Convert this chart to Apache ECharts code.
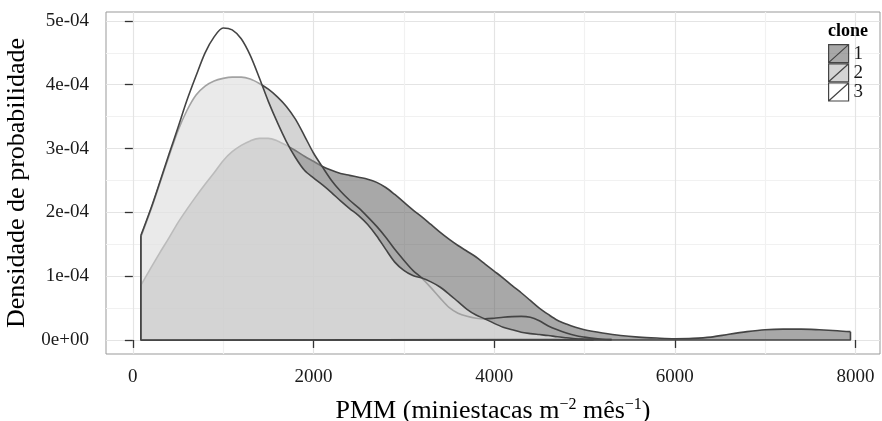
<!DOCTYPE html>
<html>
<head>
<meta charset="utf-8">
<script src="https://cdn.jsdelivr.net/npm/echarts@6/dist/echarts.min.js"></script>
<style>
html,body{margin:0;padding:0;background:#fff;}
#chart{width:882px;height:421px;}
</style>
</head>
<body>
<div id="chart"></div>
<script>
// ---- data (densities in units of 1e-4) ----
const clones = ['1', '2', '3'];
const densityUnit = 1e-4;

const clone1X = [90,200,300,400,500,600,700,800,900,1000,1100,1200,1300,1400,1500,1600,1700,1800,1900,2000,
  2100,2200,2300,2400,2500,2600,2700,2800,2900,3000,3100,3200,3300,3400,3500,3600,3700,3800,3900,4000,
  4100,4200,4300,4400,4500,4600,4700,4800,4900,5000,5200,5400,5600,5800,6000,6200,6400,6600,6800,7000,
  7200,7400,7600,7800,7945];
const clone1Y = [0.86,1.13,1.37,1.60,1.84,2.05,2.25,2.44,2.62,2.81,2.95,3.05,3.12,3.16,3.16,3.12,3.05,2.97,2.88,2.80,
  2.72,2.66,2.61,2.58,2.55,2.52,2.47,2.39,2.28,2.16,2.04,1.93,1.81,1.69,1.58,1.48,1.39,1.30,1.19,1.08,
  0.97,0.85,0.74,0.62,0.50,0.40,0.31,0.25,0.20,0.16,0.11,0.07,0.045,0.03,0.02,0.025,0.045,0.09,0.13,0.16,
  0.17,0.17,0.16,0.145,0.13];

const clone2X = [90,200,300,400,500,600,700,800,900,1000,1100,1200,1300,1400,1500,1600,1700,1800,1900,2000,
  2100,2200,2300,2400,2500,2600,2700,2800,2900,3000,3100,3200,3300,3400,3500,3600,3700,3800,3900,4000,
  4100,4200,4300,4400,4500,4600,4700,4800,4900,5000,5100,5200,5300];
const clone2Y = [1.62,2.04,2.46,2.88,3.28,3.60,3.84,3.98,4.06,4.10,4.12,4.12,4.09,4.02,3.93,3.81,3.66,3.46,3.20,2.93,
  2.71,2.50,2.33,2.19,2.07,1.93,1.78,1.61,1.42,1.25,1.09,0.97,0.82,0.66,0.51,0.42,0.37,0.34,0.33,0.34,
  0.355,0.365,0.37,0.355,0.30,0.22,0.16,0.11,0.07,0.045,0.025,0.012,0.005];

const clone3X = [90,200,300,400,500,600,700,800,900,1000,1100,1200,1300,1400,1500,1600,1700,1800,1900,2000,
  2100,2200,2300,2400,2500,2600,2700,2800,2900,3000,3100,3200,3300,3400,3500,3600,3700,3800,3900,4000,
  4100,4200,4300,4400,4500,4600,4700,4800,4900,5000,5100];
const clone3Y = [1.64,2.06,2.48,2.91,3.33,3.76,4.14,4.50,4.75,4.89,4.86,4.72,4.46,4.11,3.74,3.41,3.11,2.86,2.66,2.54,
  2.43,2.31,2.18,2.06,1.95,1.81,1.63,1.42,1.22,1.09,1.01,0.97,0.91,0.83,0.72,0.60,0.48,0.39,0.33,0.26,
  0.20,0.16,0.12,0.10,0.085,0.07,0.05,0.035,0.02,0.012,0.005];

const xTicks = [0, 2000, 4000, 6000, 8000];
const xMinorTicks = [1000, 3000, 5000, 7000];
const yTicks = [0, 0.0001, 0.0002, 0.0003, 0.0004, 0.0005];
const yTickLabels = ['0e+00', '1e-04', '2e-04', '3e-04', '4e-04', '5e-04'];
const yMinorTicks = [0.00005, 0.00015, 0.00025, 0.00035, 0.00045];

// ---- styling ----
const FONT = '"Liberation Serif", "Times New Roman", serif';
const fills = ['rgba(81,81,81,0.5)', 'rgba(170,170,170,0.5)', 'rgba(255,255,255,0.5)'];
const lineColor = '#444444';
const lineW = 1.6;

const cloneData = [[clone1X, clone1Y], [clone2X, clone2Y], [clone3X, clone3Y]];

function curvePoints(xs, ys) {
  return xs.map((x, i) => [x, ys[i] * densityUnit]);
}
function edgePoints(xs, ys) {
  const n = xs.length;
  return [[xs[n - 1], ys[n - 1] * densityUnit], [xs[n - 1], 0], [xs[0], 0], [xs[0], ys[0] * densityUnit]];
}

const series = [];
cloneData.forEach(([xs, ys], k) => {
  series.push({
    name: clones[k], type: 'line', z: 2 + k, silent: true, animation: false,
    data: curvePoints(xs, ys), smooth: 0.3, symbol: 'none', showSymbol: false,
    lineStyle: { color: lineColor, width: lineW },
    itemStyle: { color: fills[k] },
    areaStyle: { color: fills[k], opacity: 1 }
  });
  series.push({
    name: 'edge' + clones[k], type: 'line', z: 2 + k, silent: true, animation: false,
    data: edgePoints(xs, ys), smooth: false, symbol: 'none', showSymbol: false,
    lineStyle: { color: lineColor, width: lineW }
  });
});

const keyIcon = 'path://M0,0L20,0L20,18L0,18Z M0,18L20,0';

const chart = echarts.init(document.getElementById('chart'), null, { renderer: 'canvas' });
chart.setOption({
  animation: false,
  backgroundColor: '#ffffff',
  title: {
    text: 'clone', left: 823, top: 17,
    textStyle: { fontFamily: FONT, fontSize: 18, fontWeight: 'bold', color: '#000' }
  },
  legend: {
    orient: 'vertical', left: 828, top: 44, padding: 0,
    itemWidth: 20, itemHeight: 18, itemGap: 0, selectedMode: false,
    textStyle: { fontFamily: FONT, fontSize: 19, color: '#1a1a1a', lineHeight: 18 },
    data: clones.map((c, k) => ({
      name: c, icon: keyIcon,
      itemStyle: { color: fills[k], borderColor: lineColor, borderWidth: 1.2 }
    }))
  },
  grid: {
    left: 106, right: 2, top: 12, bottom: 67,
    containLabel: false, outerBoundsMode: 'none',
    show: true, borderColor: '#999999', borderWidth: 1, backgroundColor: '#ffffff'
  },
  xAxis: [{
    type: 'value', min: -297, max: 8272,
    axisLine: { show: false },
    axisTick: { show: true, length: 8, customValues: xTicks, lineStyle: { color: '#333', width: 1.3 } },
    axisLabel: {
      customValues: xTicks, fontFamily: FONT, fontSize: 19, color: '#1a1a1a', margin: 14,
      formatter: v => String(v)
    },
    splitLine: { show: true, lineStyle: { color: '#e4e4e4', width: 1.2 } },
    name: '{a|PMM (miniestacas m}{s|−2}{a| mês}{s|−1}{a|)}',
    nameLocation: 'middle', nameGap: 42,
    nameTextStyle: {
      fontFamily: FONT, fontSize: 26, color: '#000',
      rich: {
        a: { fontFamily: FONT, fontSize: 26, color: '#000', lineHeight: 30 },
        s: { fontFamily: FONT, fontSize: 16, color: '#000', lineHeight: 30, padding: [0, 0, 13, 0] }
      }
    }
  }, {
    type: 'value', min: -297, max: 8272, position: 'bottom',
    axisLine: { show: false },
    axisTick: { show: false, customValues: xMinorTicks },
    axisLabel: { show: false, customValues: xMinorTicks },
    splitLine: { show: true, lineStyle: { color: '#f1f1f1', width: 1.2 } }
  }],
  yAxis: [{
    type: 'value', min: -0.000022, max: 0.000514,
    axisLine: { show: false },
    axisTick: { show: true, length: 8, customValues: yTicks, lineStyle: { color: '#333', width: 1.3 } },
    axisLabel: {
      customValues: yTicks, fontFamily: FONT, fontSize: 19, color: '#1a1a1a', margin: 17,
      formatter: v => yTickLabels[Math.round(v / densityUnit)]
    },
    splitLine: { show: true, lineStyle: { color: '#e4e4e4', width: 1.2 } },
    name: 'Densidade de probabilidade',
    nameLocation: 'middle', nameGap: 72,
    nameTextStyle: { fontFamily: FONT, fontSize: 26, color: '#000' }
  }, {
    type: 'value', min: -0.000022, max: 0.000514, position: 'left',
    axisLine: { show: false },
    axisTick: { show: false, customValues: yMinorTicks },
    axisLabel: { show: false, customValues: yMinorTicks },
    splitLine: { show: true, lineStyle: { color: '#f1f1f1', width: 1.2 } }
  }],
  series: series
});
</script>
</body>
</html>
